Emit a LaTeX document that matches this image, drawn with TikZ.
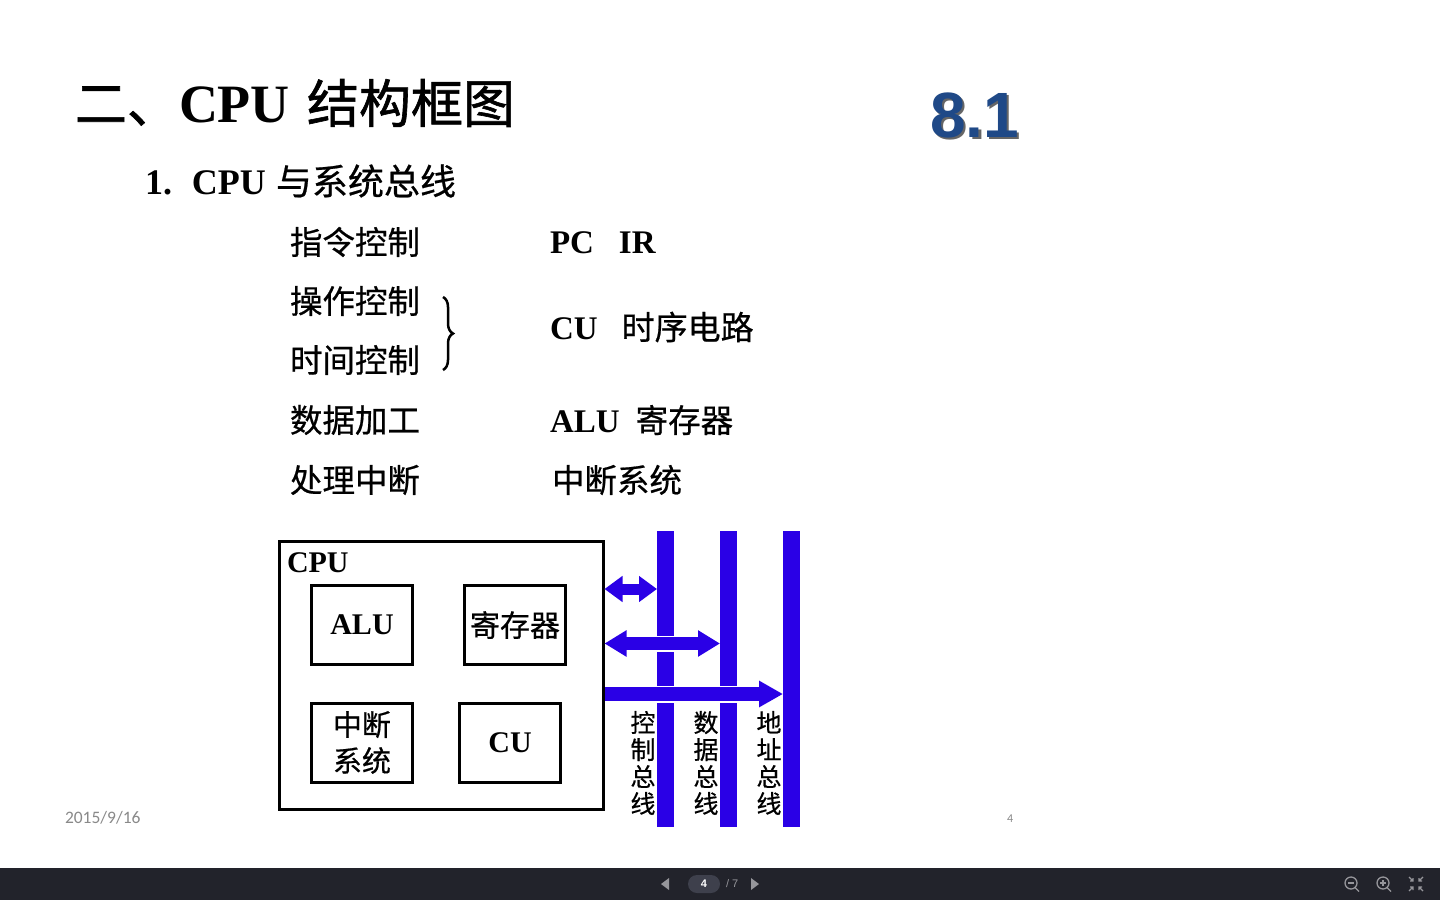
\documentclass[tikz,border=0pt]{standalone}
\usepackage{fontspec}
\setmainfont{Liberation Serif}
\newfontfamily\cjk[FakeBold=0.6]{Noto Sans CJK SC}
\newfontfamily\cjkt[FakeBold=1.2]{Noto Sans CJK SC}
\newfontfamily\arialf{Liberation Sans}
\newfontfamily\calf{Carlito}
\usetikzlibrary{arrows.meta,decorations.pathreplacing,calc}
\definecolor{bus}{RGB}{42,0,230}
\definecolor{numblue}{RGB}{31,73,135}
\definecolor{barbg}{RGB}{34,35,43}
\definecolor{pill}{RGB}{62,64,76}
\definecolor{icon}{RGB}{150,150,155}
\definecolor{dategray}{RGB}{137,137,137}
\newcommand{\fs}[1]{\fontsize{#1}{#1}\selectfont}
\begin{document}
\begin{tikzpicture}[x=1pt,y=-1pt,
  txt/.style={inner sep=0pt, outer sep=0pt, anchor=west},
  listtxt/.style={txt, font=\cjk\fs{32.5}},
  box/.style={draw, line width=3pt, inner sep=0pt, outer sep=0pt},
  busbar/.style={fill=bus, inner sep=0pt, outer sep=0pt, minimum width=17pt, minimum height=296pt},
  buslabel/.style={inner sep=0pt, align=center, font=\cjk\fontsize{25}{27}\selectfont},
  halo/.style={draw=white, line width=#1},
  dbl/.style={draw=bus, line width=#1},
]
\useasboundingbox (0,0) rectangle (1440,900);
\fill[white] (0,0) rectangle (1440,900);

% title
\node[txt] (title) at (75,103) {\cjkt\fs{52}二、\rmfamily\bfseries\fs{54}CPU\hspace{17pt}\cjkt\mdseries\fs{52}结构框图};
\node[txt, text=black!80, opacity=0.75] (numsh) at (932.5,117.5) {\arialf\bfseries\fs{64}8.1};
\node[txt, text=numblue] (num) at (930,115) {\arialf\bfseries\fs{64}8.1};

% subtitle
\node[txt] (sub) at (145,181) {\bfseries\fs{36}1.\hspace{20pt}CPU\hspace{10pt}\cjk\mdseries\fs{36}与系统总线};

% left list
\node[listtxt] (l1) at (290,242) {指令控制};
\node[listtxt] (l2) at (290,301) {操作控制};
\node[listtxt] (l3) at (290,360) {时间控制};
\node[listtxt] (l4) at (290,420) {数据加工};
\node[listtxt] (l5) at (290,480) {处理中断};
\draw[line width=2.5pt, decorate, decoration={brace, amplitude=10pt}] (443,297) -- (443,370);

% right list
\node[txt] (r1) at (550,243) {\bfseries\fs{33}PC\hspace{25pt}IR};
\node[txt] (r2) at (550,327) {\bfseries\fs{33}CU\hspace{24pt}\cjk\mdseries\fs{33}时序电路};
\node[txt] (r3) at (550,420) {\bfseries\fs{33}ALU\hspace{16pt}\cjk\mdseries\fs{32.5}寄存器};
\node[txt] (r4) at (552,480) {\cjk\fs{32.5}中断系统};

% CPU box
\node[box, minimum width=324pt, minimum height=268pt] (cpu) at (441,675) {};
\node[txt] (cpulbl) at (287,563) {\bfseries\fs{30}CPU};
\node[box, minimum width=101pt, minimum height=79pt] (alu) at (362,625) {\raisebox{-2pt}{\bfseries\fs{30}ALU}};
\node[box, minimum width=101pt, minimum height=79pt] (reg) at (515,625) {\cjk\fs{30}寄存器};
\node[box, minimum width=101pt, minimum height=79pt, align=center, font=\cjk\fontsize{29}{36}\selectfont] (irq) at (362,742.5) {中断\\系统};
\node[box, minimum width=101pt, minimum height=79pt] (cu) at (510,742.5) {\raisebox{-2.5pt}{\bfseries\fs{30}CU}};

% buses
\node[busbar] (cb) at (665.5,679) {};
\node[busbar] (db) at (728.5,679) {};
\node[busbar] (ab) at (791.5,679) {};
\node[buslabel] (cbl) at (643,763) {控\\制\\总\\线};
\node[buslabel] (dbl) at (706,763) {数\\据\\总\\线};
\node[buslabel] (abl) at (769,763) {地\\址\\总\\线};

% connectors
\coordinate (y1) at (0,589);
\coordinate (y2) at (0,643.5);
\coordinate (y3) at (0,694);
\draw[halo=14pt, {Triangle[length=19pt,width=28pt]}-{Triangle[length=19pt,width=28pt]}] ($(cpu.east |- y1)+(1.5,0)$) -- (cb.west |- y1);
\draw[dbl=11pt, {Triangle[length=18pt,width=25pt]}-{Triangle[length=18pt,width=25pt]}] ($(cpu.east |- y1)+(1.5,0)$) -- (cb.west |- y1);
\draw[halo=16pt, {Triangle[length=23pt,width=28pt]}-{Triangle[length=23pt,width=28pt]}] ($(cpu.east |- y2)+(1.5,0)$) -- (db.west |- y2);
\draw[dbl=13pt, {Triangle[length=22pt,width=25pt]}-{Triangle[length=22pt,width=25pt]}] ($(cpu.east |- y2)+(1.5,0)$) -- (db.west |- y2);
\draw[halo=17pt, -{Triangle[length=25pt,width=28pt]}] ($(cpu.east |- y3)+(2,0)$) -- (ab.west |- y3);
\draw[dbl=14pt, -{Triangle[length=24pt,width=25pt]}] ($(cpu.east |- y3)+(2,0)$) -- (ab.west |- y3);

% footer
\node[txt, text=dategray] (date) at (65,818) {\calf\fs{17.5}2015/9/16};
\node[txt, text=dategray] (page) at (1007,819) {\calf\fs{12}4};

% viewer bar
\fill[barbg] (0,868) rectangle (1440,900);
\fill[icon] (669,878) -- (661,884) -- (669,890) -- cycle;
\fill[icon] (751,878) -- (759,884) -- (751,890) -- cycle;
\node[fill=pill, rounded corners=9pt, minimum width=32pt, minimum height=18pt, inner sep=0pt, text=white] (pg) at (704,884) {\arialf\bfseries\fs{11}4};
\node[txt, text=icon] (pgt) at (726,884) {\arialf\fs{11}/ 7};
\draw[icon, line width=1.3pt] (1351,883) circle (6);
\draw[icon, line width=1.3pt] (1355,887.5) -- (1359,891.5);
\draw[icon, line width=1.2pt] (1348,883) -- (1354,883);
\draw[icon, line width=1.3pt] (1383,883) circle (6);
\draw[icon, line width=1.3pt] (1387,887.5) -- (1391,891.5);
\draw[icon, line width=1.2pt] (1380,883) -- (1386,883) (1383,880) -- (1383,886);
\draw[icon, line width=1.3pt] (1409,877) -- (1413,881) (1413,878) -- (1413,881) -- (1410,881);
\draw[icon, line width=1.3pt] (1423,877) -- (1419,881) (1419,878) -- (1419,881) -- (1422,881);
\draw[icon, line width=1.3pt] (1409,891) -- (1413,887) (1413,890) -- (1413,887) -- (1410,887);
\draw[icon, line width=1.3pt] (1423,891) -- (1419,887) (1419,890) -- (1419,887) -- (1422,887);
\end{tikzpicture}
\end{document}
